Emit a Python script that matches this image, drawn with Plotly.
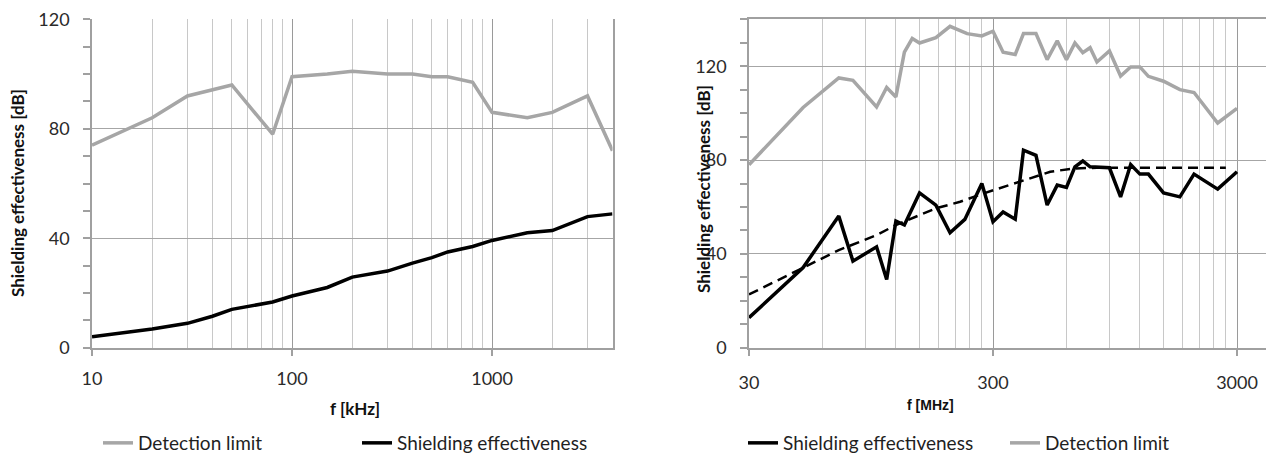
import math
import plotly.graph_objects as go

# ---------------- data ----------------
# Left chart (kHz)
f_khz = [10, 20, 30, 40, 50, 80, 100, 150, 200, 300, 400, 500, 600, 800,
         1000, 1500, 2000, 3000, 4000]
det_left = [74, 84, 92, 94.3, 96, 78, 99, 100, 101, 100, 100, 99, 99, 97,
            86, 84, 86, 92, 72]
se_left = [4, 6.8, 8.9, 11.5, 14, 16.7, 18.9, 22, 25.8, 28, 30.9, 32.9, 35, 37,
           39.2, 42, 42.8, 47.9, 48.9]

# Right chart (MHz)
f_det_right = [30, 50, 70, 80, 100, 110, 120, 130, 140, 150, 175, 200, 235, 270,
               300, 330, 370, 400, 450, 500, 550, 600, 650, 700, 750, 800, 900,
               1000, 1100, 1200, 1300, 1500, 1750, 2000, 2500, 3000]
det_right = [78, 102.4, 115, 114, 102.6, 110.9, 106.9, 126, 131.8, 129.9, 132.2,
             137, 133.9, 132.9, 134.9, 126, 125, 133.9, 133.9, 122.8, 130.8,
             122.8, 129.9, 125.8, 127.9, 121.8, 126.5, 115.8, 119.7, 119.7,
             115.7, 113.6, 110, 108.8, 95.8, 102]

f_se_right = [30, 50, 70, 80, 100, 110, 120, 130, 150, 175, 200, 230, 270, 300,
              330, 370, 400, 450, 500, 550, 600, 650, 700, 750, 900, 1000, 1100,
              1200, 1300, 1500, 1750, 2000, 2500, 3000]
se_right = [12.8, 34.2, 56.1, 36.9, 43, 29.1, 54, 52.3, 66, 60.8, 49, 54.7, 70,
            53.7, 57.9, 54.8, 84.2, 82, 60.8, 69.3, 68.3, 77.1, 79.6, 77.1, 76.7,
            64.3, 78.1, 74, 74, 66, 64.3, 74, 67.6, 75]

f_trend = [30, 50, 70, 100, 120, 175, 220, 275, 400, 515, 640, 800, 2700]
trend = [22.7, 34, 41.6, 48, 52.3, 59.4, 62.2, 65.8, 71.4, 75, 76.4, 76.7, 76.7]

# axis ticks
left_xticks = [10, 100, 1000]
left_xminor = [20, 30, 40, 50, 60, 70, 80, 90, 200, 300, 400, 500, 600, 700,
               800, 900, 2000, 3000, 4000]
right_xticks = [30, 300, 3000]
right_xminor = [60, 90, 120, 150, 180, 210, 240, 270, 600, 900, 1200, 1500,
                1800, 2100, 2400, 2700]
left_yticks = [0, 40, 80, 120]
right_yticks = [0, 40, 80, 120]

# ---------------- styles ----------------
W, H = 1266, 456
GRAY = "#a6a6a6"
BLACK = "#000000"
TICKFONT = dict(family="Lato", size=18, color="#2a2a2a")
TITLEFONT = dict(family="Lato", size=17, color="#111111", weight="bold")
LEGFONT = dict(family="Lato", size=19, color="#1f1f1f")


def px(x):
    return x / W


def py(y):
    return (H - y) / H


fig = go.Figure()

fig.add_trace(go.Scatter(x=f_khz, y=det_left, mode="lines", name="Detection limit",
                         line=dict(color=GRAY, width=3.5), xaxis="x", yaxis="y",
                         legend="legend"))
fig.add_trace(go.Scatter(x=f_khz, y=se_left, mode="lines", name="Shielding effectiveness",
                         line=dict(color=BLACK, width=3.5), xaxis="x", yaxis="y",
                         legend="legend2"))
fig.add_trace(go.Scatter(x=f_det_right, y=det_right, mode="lines", name="Detection limit",
                         line=dict(color=GRAY, width=3.5), xaxis="x2", yaxis="y2",
                         legend="legend4"))
fig.add_trace(go.Scatter(x=f_trend, y=trend, mode="lines", showlegend=False,
                         line=dict(color=BLACK, width=2.5, dash="10px,6px"),
                         xaxis="x2", yaxis="y2"))
fig.add_trace(go.Scatter(x=f_se_right, y=se_right, mode="lines", name="Shielding effectiveness",
                         line=dict(color=BLACK, width=3.5), xaxis="x2", yaxis="y2",
                         legend="legend3"))

y_dom = [py(347.7), py(19.3)]

common_x = dict(type="log", showline=True, linecolor="#a0a0a0", linewidth=1.5,
                ticks="outside", ticklen=7, tickcolor="#a0a0a0", tickwidth=1.5,
                showgrid=True, gridcolor="#9a9a9a", gridwidth=1.3, zeroline=False,
                tickfont=TICKFONT, tickmode="array")
common_y = dict(showline=True, linecolor="#a0a0a0", linewidth=1.5,
                ticks="outside", ticklen=7, tickcolor="#a0a0a0", tickwidth=1.5,
                showgrid=True, gridcolor="#a6a6a6", gridwidth=1.3, zeroline=False,
                tickfont=TICKFONT, ticklabelstandoff=10, tickmode="array",
                minor=dict(dtick=10, ticks="outside", ticklen=7, tickcolor="#a0a0a0",
                           tickwidth=1.5, showgrid=False))

fig.update_layout(
    width=W, height=H, autosize=False,
    margin=dict(l=0, r=0, t=0, b=0, pad=0, autoexpand=False),
    paper_bgcolor="white", plot_bgcolor="white",
    xaxis=dict(common_x, domain=[px(92), px(612.5)], anchor="y",
               range=[1, math.log10(4000)], ticklabelstandoff=7,
               tickvals=left_xticks, ticktext=[str(v) for v in left_xticks],
               minor=dict(tickmode="array", tickvals=left_xminor, showgrid=True,
                          gridcolor="#c8c8c8", gridwidth=1.3, ticks="")),
    yaxis=dict(common_y, domain=y_dom, anchor="x", range=[0, 120],
               tickvals=left_yticks, ticktext=[str(v) for v in left_yticks],
               mirror=True),
    xaxis2=dict(common_x, domain=[px(749), 1.0], anchor="y2",
                range=[math.log10(30), math.log10(30) + (W - 749) / 244.0],
                ticklabelstandoff=11,
                tickvals=right_xticks, ticktext=[str(v) for v in right_xticks],
                mirror=True,
                minor=dict(tickmode="array", tickvals=right_xminor, showgrid=True,
                           gridcolor="#c8c8c8", gridwidth=1.3, ticks="")),
    yaxis2=dict(common_y, domain=y_dom, anchor="x2", range=[0, 140],
                tickvals=right_yticks, ticktext=[str(v) for v in right_yticks]),
    legend=dict(x=px(98), y=py(443), xanchor="left", yanchor="middle",
                orientation="h", font=LEGFONT, bgcolor="rgba(0,0,0,0)"),
    legend2=dict(x=px(357), y=py(443), xanchor="left", yanchor="middle",
                 orientation="h", font=LEGFONT, bgcolor="rgba(0,0,0,0)"),
    legend3=dict(x=px(743), y=py(443), xanchor="left", yanchor="middle",
                 orientation="h", font=LEGFONT, bgcolor="rgba(0,0,0,0)"),
    legend4=dict(x=px(1005), y=py(443), xanchor="left", yanchor="middle",
                 orientation="h", font=LEGFONT, bgcolor="rgba(0,0,0,0)"),
    annotations=[
        dict(text="Shielding effectiveness [dB]", x=px(17), y=py(193), xref="paper",
             yref="paper", textangle=-90, showarrow=False, font=TITLEFONT,
             xanchor="center", yanchor="middle"),
        dict(text="Shielding effectiveness [dB]", x=px(703), y=py(189), xref="paper",
             yref="paper", textangle=-90, showarrow=False, font=TITLEFONT,
             xanchor="center", yanchor="middle"),
        dict(text="f [kHz]", x=px(355), y=py(408), xref="paper", yref="paper",
             showarrow=False, font=TITLEFONT, xanchor="center", yanchor="middle"),
        dict(text="f [MHz]", x=px(930), y=py(405), xref="paper", yref="paper",
             showarrow=False,
             font=dict(family="Liberation Sans", size=14, color="#111111", weight="bold"),
             xanchor="center", yanchor="middle"),
    ],
)

fig.write_html("out.html", config={"displayModeBar": False},
               post_script="document.body.style.margin='0';")
